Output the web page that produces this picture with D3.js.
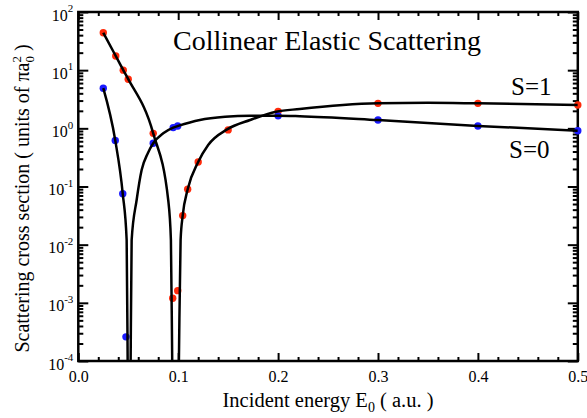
<!DOCTYPE html>
<html><head><meta charset="utf-8">
<script src="https://cdn.jsdelivr.net/npm/d3@7"></script>
<style>
body{margin:0;background:#fff}
svg{display:block}
text{font-family:"Liberation Serif","Times New Roman",Times,serif;fill:#000}
</style>
</head><body>
<svg id="chart" width="587" height="418"></svg>
<script>
// ---- tick labels ----
const xTickValues = [0, 0.1, 0.2, 0.3, 0.4, 0.5];
const xTickLabels = ["0.0", "0.1", "0.2", "0.3", "0.4", "0.5"];
const yTickValues = [1e-4, 1e-3, 1e-2, 1e-1, 1e0, 1e1, 1e2];
const yTickExponents = ["-4", "-3", "-2", "-1", "0", "1", "2"];

// ---- data points (symbols) ----
const s1PointE   = [0.025, 0.0375, 0.045, 0.05, 0.075, 0.0945, 0.0995, 0.1045, 0.1095, 0.12, 0.15, 0.2, 0.3, 0.4, 0.5];
const s1PointVal = [44, 17.5, 10, 7.0, 0.82, 1.2e-3, 1.62e-3, 0.0316, 0.0895, 0.264, 0.94, 1.96, 2.69, 2.69, 2.52];
const s0PointE   = [0.025, 0.037, 0.0445, 0.0477, 0.075, 0.095, 0.0995, 0.2, 0.3, 0.4, 0.5];
const s0PointVal = [4.9, 0.62, 0.075, 2.6e-4, 0.553, 1.03, 1.1, 1.64, 1.39, 1.1, 0.91];

// ---- theory curves ----
const s1CurveE   = [0.025, 0.0375, 0.045, 0.05, 0.075, 0.090, 0.0927, 0.094, 0.0973, 0.1007, 0.1024, 0.1045, 0.1095, 0.12, 0.130, 0.149, 0.172, 0.198, 0.2217, 0.3, 0.35, 0.4, 0.5];
const s1CurveVal = [44, 17.5, 10, 7.0, 0.82, 0.0586, 0.012, 1e-4, 1e-9, 1e-4, 0.012, 0.0316, 0.0895, 0.264, 0.517, 0.96, 1.39, 1.93, 2.15, 2.69, 2.75, 2.69, 2.52];
const s0CurveE   = [0.025, 0.037, 0.0445, 0.0484, 0.0494, 0.0509, 0.0524, 0.0534, 0.0584, 0.0634, 0.0697, 0.075, 0.085, 0.095, 0.1, 0.1217, 0.147, 0.172, 0.2, 0.2217, 0.3, 0.4, 0.5];
const s0CurveVal = [4.9, 0.62, 0.075, 0.012, 1e-4, 1e-9, 1e-4, 0.012, 0.0586, 0.192, 0.377, 0.553, 0.82, 1.03, 1.1, 1.39, 1.58, 1.65, 1.65, 1.62, 1.39, 1.1, 0.91];

const seriesColors = {s1: "#ff2a0a", s0: "#1a1aff"};

const svg = d3.select("#chart");
const L = 78.3, R = 577.8, T = 12, B = 361;
const x = d3.scaleLinear().domain([0, 0.5]).range([L, R]);
const y = d3.scaleLog().domain([1e-4, 1e2]).range([B, T]);

const xMinor = d3.range(0.02, 0.5, 0.02).filter(v => Math.abs(v * 10 - Math.round(v * 10)) > 1e-6);
const yMinor = [];
yTickValues.slice(0, -1).forEach(d => { for (let k = 2; k <= 9; k++) yMinor.push(d * k); });

function styleAxis(g) {
  g.attr("font-family", null);
  g.select(".domain").remove();
  g.selectAll(".tick line").attr("stroke", "#000").attr("stroke-width", 2);
}

// bottom axis
svg.append("g").attr("transform", `translate(0,${B})`)
  .call(d3.axisBottom(x).tickValues(xMinor).tickSize(-4).tickFormat(""))
  .call(styleAxis);
const xb = svg.append("g").attr("transform", `translate(0,${B})`)
  .call(d3.axisBottom(x).tickValues(xTickValues).tickSize(-8).tickPadding(9.5)
        .tickFormat((d, i) => xTickLabels[i]))
  .call(styleAxis);
xb.selectAll("text").attr("font-size", 16);
// top axis
svg.append("g").attr("transform", `translate(0,${T})`)
  .call(d3.axisTop(x).tickValues(xMinor).tickSize(-4).tickFormat("")).call(styleAxis);
svg.append("g").attr("transform", `translate(0,${T})`)
  .call(d3.axisTop(x).tickValues(xTickValues).tickSize(-8).tickFormat("")).call(styleAxis);
// left axis
svg.append("g").attr("transform", `translate(${L},0)`)
  .call(d3.axisLeft(y).tickValues(yMinor).tickSize(-5).tickFormat("")).call(styleAxis);
const yl = svg.append("g").attr("transform", `translate(${L},0)`)
  .call(d3.axisLeft(y).tickValues(yTickValues).tickSize(-10).tickPadding(5).tickFormat(""))
  .call(styleAxis);
yl.selectAll(".tick text").each(function(d, i) {
  const t = d3.select(this).attr("font-size", 16).attr("dy", "0.5em").text(null);
  t.append("tspan").text("10");
  t.append("tspan").attr("font-size", 11).attr("dy", "-0.75em").text(yTickExponents[i]);
});
// right axis
svg.append("g").attr("transform", `translate(${R},0)`)
  .call(d3.axisRight(y).tickValues(yMinor).tickSize(-5).tickFormat("")).call(styleAxis);
svg.append("g").attr("transform", `translate(${R},0)`)
  .call(d3.axisRight(y).tickValues(yTickValues).tickSize(-10).tickFormat("")).call(styleAxis);

// frame
svg.append("rect").attr("x", L).attr("y", T).attr("width", R - L).attr("height", B - T)
  .attr("fill", "none").attr("stroke", "#000").attr("stroke-width", 2.5);

// clip
svg.append("clipPath").attr("id", "clip").append("rect")
  .attr("x", L).attr("y", T).attr("width", R - L).attr("height", B - T);

// points
function drawPoints(E, V, color) {
  svg.append("g").selectAll("circle").data(E.map((e, i) => [e, V[i]])).join("circle")
    .attr("cx", d => x(d[0])).attr("cy", d => y(d[1])).attr("r", 3.7).attr("fill", color);
}
drawPoints(s1PointE, s1PointVal, seriesColors.s1);
drawPoints(s0PointE, s0PointVal, seriesColors.s0);

// curves
const line = d3.line().x(d => x(d[0])).y(d => y(d[1])).curve(d3.curveMonotoneX);
function drawCurve(E, V) {
  svg.append("path").datum(E.map((e, i) => [e, V[i]]))
    .attr("clip-path", "url(#clip)")
    .attr("d", line).attr("fill", "none").attr("stroke", "#000").attr("stroke-width", 2.5);
}
drawCurve(s1CurveE, s1CurveVal);
drawCurve(s0CurveE, s0CurveVal);

// title & labels
svg.append("text").attr("x", 173).attr("y", 50).attr("font-size", 28).text("Collinear Elastic Scattering");
svg.append("text").attr("x", 511).attr("y", 95).attr("font-size", 25).text("S=1");
svg.append("text").attr("x", 509).attr("y", 158).attr("font-size", 25).text("S=0");

const xl = svg.append("text").attr("x", (L + R) / 2).attr("y", 407).attr("text-anchor", "middle").attr("font-size", 20.5);
xl.append("tspan").text("Incident energy E");
xl.append("tspan").attr("font-size", 14).attr("dy", 5).text("0");
xl.append("tspan").attr("dy", -5).text(" ( a.u. )");

const ylab = svg.append("text").attr("transform", `translate(29,${(T + B) / 2 + 12}) rotate(-90)`)
  .attr("text-anchor", "middle").attr("font-size", 20);
ylab.append("tspan").text("Scattering cross section ( units of πa");
ylab.append("tspan").attr("font-size", 13).attr("dy", -8).text("2");
ylab.append("tspan").attr("font-size", 13).attr("dx", -6.5).attr("dy", 13).text("0");
ylab.append("tspan").attr("dy", -5).text(" )");
</script>
</body></html>
